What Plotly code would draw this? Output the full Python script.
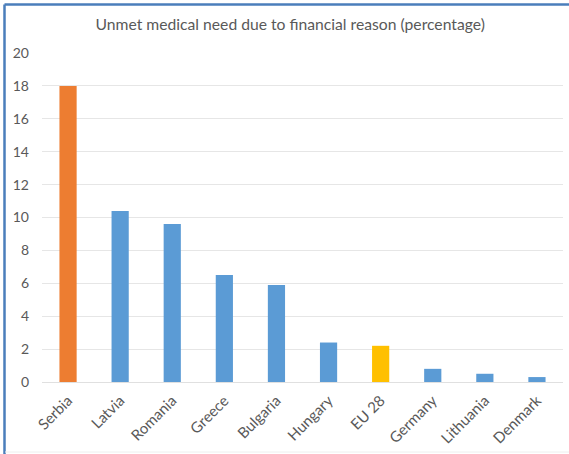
import plotly.graph_objects as go

categories = ["Serbia", "Latvia", "Romania", "Greece", "Bulgaria", "Hungary", "EU 28", "Germany", "Lithuania", "Denmark"]
values = [18, 10.4, 9.6, 6.5, 5.9, 2.4, 2.2, 0.8, 0.5, 0.3]
bar_colors = ["#ED7D31", "#5B9BD5", "#5B9BD5", "#5B9BD5", "#5B9BD5", "#5B9BD5", "#FFC000", "#5B9BD5", "#5B9BD5", "#5B9BD5"]
y_ticks = [0, 2, 4, 6, 8, 10, 12, 14, 16, 18, 20]

W, H = 569, 454
ml, mr, mt, mb = 42, 6, 53, 72
pw, ph = W - ml - mr, H - mt - mb

def px_x(x):
    return (x - ml) / pw

def px_y(y):
    return (H - mb - y) / ph

fig = go.Figure(go.Bar(
    x=categories, y=values, marker=dict(color=bar_colors, line=dict(width=0)),
    width=0.33,
))

fig.update_layout(
    width=W, height=H,
    margin=dict(l=ml, r=mr, t=mt, b=mb, autoexpand=False),
    paper_bgcolor="white", plot_bgcolor="white",
    font=dict(family="Lato, Open Sans, sans-serif", color="#595959", size=14),
    title=dict(text="Unmet medical need due to financial reason (percentage)",
               x=0.51, xanchor="center", y=1 - 25 / H, yanchor="middle",
               font=dict(size=15.7, color="#595959")),
    showlegend=False,
    bargap=0.67,
    xaxis=dict(tickangle=-45, showgrid=False, showline=False, ticks="",
               ticklabelstandoff=6,
               automargin=False, tickfont=dict(size=15, color="#595959")),
    yaxis=dict(range=[0, 20], tickvals=y_ticks, showgrid=True, gridcolor="#E6E6E6",
               gridwidth=1, zeroline=True, zerolinecolor="#E0E0E0", zerolinewidth=1,
               showline=False, ticks="", ticklabelstandoff=12, automargin=False,
               tickfont=dict(size=14, color="#595959")),
    shapes=[
        dict(type="line", xref="paper", yref="paper", x0=px_x(4.5), x1=px_x(W + 2),
             y0=px_y(4.5), y1=px_y(4.5), line=dict(color="#4A7EBB", width=2.5)),
        dict(type="line", xref="paper", yref="paper", x0=px_x(4.5), x1=px_x(4.5),
             y0=px_y(4.5), y1=px_y(H + 2), line=dict(color="#4A7EBB", width=2.5)),
        dict(type="line", xref="paper", yref="paper", x0=px_x(5), x1=px_x(W + 2),
             y0=px_y(452), y1=px_y(452), line=dict(color="#EEEEEE", width=1)),
    ],
)

fig.write_html("out.html", config={"displayModeBar": False},
               post_script="document.body.style.margin='0';document.body.style.overflow='hidden';")
